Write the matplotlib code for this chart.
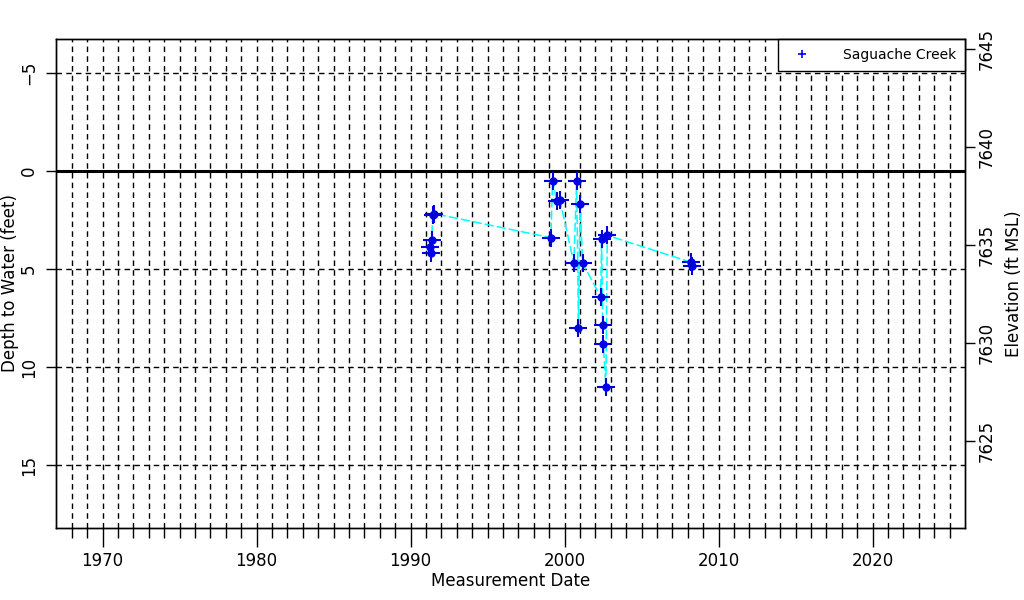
import matplotlib
matplotlib.use('Agg')
import matplotlib.pyplot as plt

# measurement dates (decimal years) and depth to water (feet)
dates = [1991.25, 1991.32, 1991.36, 1991.44, 1991.50,
         1999.11, 1999.22, 1999.48, 1999.70,
         2000.60, 2000.78, 2000.90, 2001.00, 2001.17,
         2002.34, 2002.40, 2002.47, 2002.51, 2002.68, 2002.77,
         2008.20, 2008.25]
depth = [3.86, 4.17, 3.52, 2.25, 2.17,
         3.40, 0.49, 1.52, 1.50,
         4.70, 0.49, 7.98, 1.68, 4.70,
         6.41, 3.47, 7.86, 8.83, 11.00, 3.28,
         4.65, 4.85]
series_name = 'Saguache Creek'
land_elev = 7638.78

x_major = [1970, 1980, 1990, 2000, 2010, 2020]
y_ticks = [-5, 0, 5, 10, 15]
elev_ticks = [7625, 7630, 7635, 7640, 7645]

xmin, xmax = 1966.97, 2026.0
ytop, ybot = -6.73, 18.2

plt.rcParams['font.family'] = ['DejaVu Sans']
fig = plt.figure(figsize=(10.24, 6), dpi=100)
ax = fig.add_axes([56/1024, 1-528/600, (965-56)/1024, (528-39)/600])

# grid
for yr in range(1968, 2026):
    ax.axvline(yr, color='black', lw=1, ls=(0, (4, 3)), zorder=1)
for yv in [-5, 5, 10, 15]:
    ax.axhline(yv, color='black', lw=1, ls=(0, (4, 3)), zorder=1)
ax.axhline(0, color='black', lw=2.2, zorder=2)

ax.plot(dates, depth, color='#00ffff', lw=1.1, ls=(0, (6, 2)), zorder=3)
ax.plot(dates, depth, ls='none', marker='o', ms=5, color='#0000ff', zorder=4)
ax.plot(dates, depth, ls='none', marker='+', ms=13, mew=1.5, color='#0000dd', zorder=5)
leg_h, = ax.plot([], [], ls='none', marker='+', ms=6, mew=1.2, color='#0000ff', label=series_name)

ax.set_xlim(xmin, xmax)
ax.set_ylim(ybot, ytop)

ax.set_xticks(x_major)
ax.set_xticks(range(1968, 2026), minor=True)
ax.tick_params(axis='x', which='major', length=14, width=1, labelsize=12, pad=3)
ax.tick_params(axis='x', which='minor', length=7, width=1)
ax.set_yticks(y_ticks)
ax.set_yticklabels(['\u22125', '0', '5', '10', '15'], rotation=90, va='center')
ax.tick_params(axis='y', length=7, width=1, labelsize=12, pad=6)

ax.set_xlabel('Measurement Date', fontsize=12, labelpad=2)
ax.set_ylabel('Depth to Water (feet)', fontsize=12)
ax.yaxis.set_label_coords(-0.041, 0.5)

ax2 = ax.twinx()
ax2.set_ylim(land_elev - ybot, land_elev - ytop)
ax2.set_yticks(elev_ticks)
ax2.set_yticklabels([str(t) for t in elev_ticks], rotation=90, va='center')
ax2.tick_params(axis='y', length=7, width=1, labelsize=12, pad=2)
ax2.set_ylabel('Elevation (ft MSL)', fontsize=12, rotation=90)
ax2.yaxis.set_label_coords(1.044, 0.5)

for a in (ax, ax2):
    for s in a.spines.values():
        s.set_linewidth(1)

leg = ax.legend(handles=[leg_h], loc='upper right', bbox_to_anchor=(1.0, 1.0),
                fontsize=10, frameon=True, fancybox=False, borderaxespad=0,
                handletextpad=1.8, borderpad=0.65, handlelength=2.2)
leg.get_frame().set_edgecolor('black')
leg.get_frame().set_linewidth(1)
leg.get_frame().set_alpha(1)
leg.set_zorder(10)

fig.savefig('out.png', dpi=100)
